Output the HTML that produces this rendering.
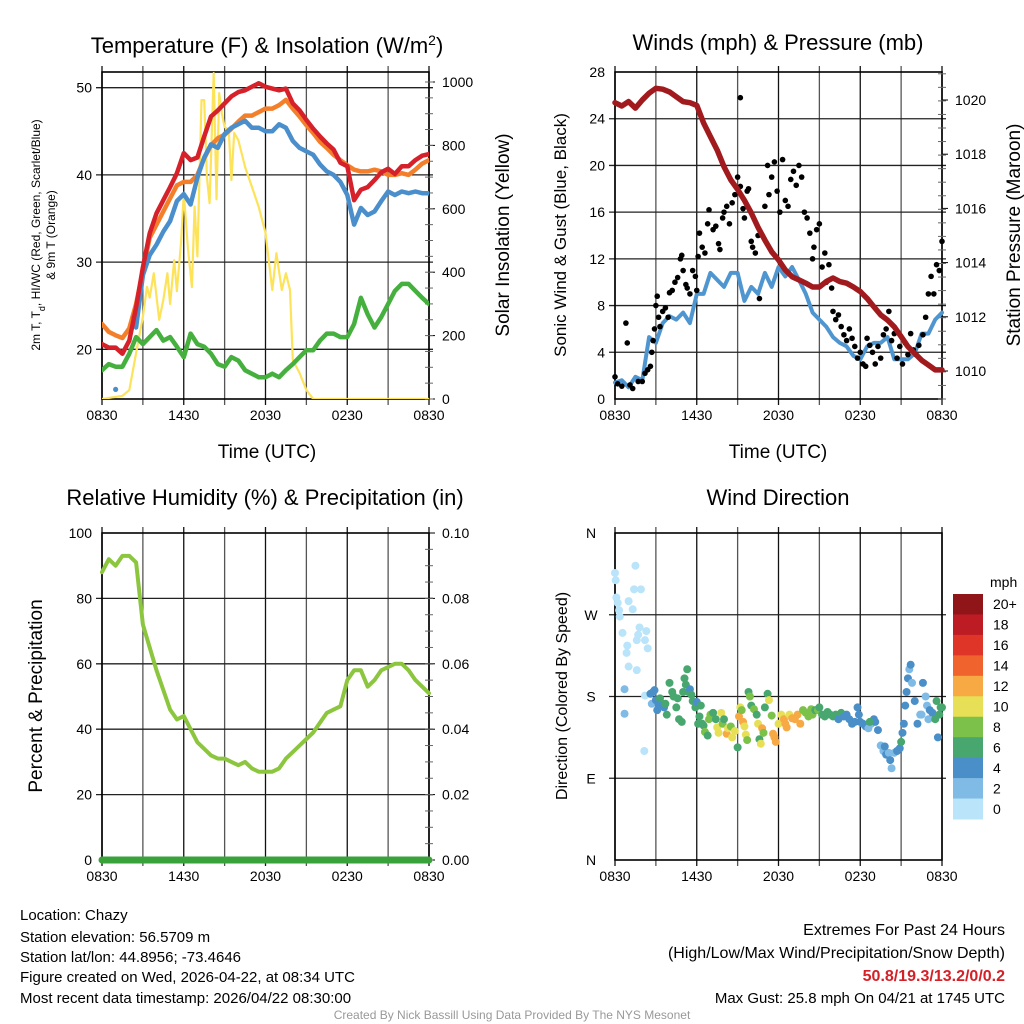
<!DOCTYPE html>
<html><head><meta charset="utf-8"><style>
html,body{margin:0;padding:0;background:#fff;}
svg{display:block;font-family:"Liberation Sans",sans-serif;}
</style></head><body>
<svg id="c" width="1024" height="1024" viewBox="0 0 1024 1024">
<g id="static">
<text x="267" y="53" font-size="22" text-anchor="middle">Temperature (F) &amp; Insolation (W/m<tspan baseline-shift="super" font-size="14">2</tspan>)</text>
<text x="778" y="50" font-size="22" text-anchor="middle">Winds (mph) &amp; Pressure (mb)</text>
<text x="265" y="505" font-size="22" text-anchor="middle">Relative Humidity (%) &amp; Precipitation (in)</text>
<text x="778" y="505" font-size="22" text-anchor="middle">Wind Direction</text>
<text x="267" y="458" font-size="19" text-anchor="middle">Time (UTC)</text>
<text x="778" y="458" font-size="19" text-anchor="middle">Time (UTC)</text>
<text transform="translate(40,235) rotate(-90)" font-size="12" text-anchor="middle">2m T, T<tspan baseline-shift="sub" font-size="9">d</tspan>, HI/WC (Red, Green, Scarlet/Blue)</text>
<text transform="translate(55,235) rotate(-90)" font-size="12" text-anchor="middle">&amp; 9m T (Orange)</text>
<text transform="translate(509,235) rotate(-90)" font-size="19" text-anchor="middle">Solar Insolation (Yellow)</text>
<text transform="translate(566,235) rotate(-90)" font-size="17" text-anchor="middle">Sonic Wind &amp; Gust (Blue, Black)</text>
<text transform="translate(1020,235) rotate(-90)" font-size="19" text-anchor="middle">Station Pressure (Maroon)</text>
<text transform="translate(42,696) rotate(-90)" font-size="19" text-anchor="middle">Percent &amp; Precipitation</text>
<text transform="translate(567,696) rotate(-90)" font-size="16" text-anchor="middle">Direction (Colored By Speed)</text>
<g font-size="15">
<text x="20" y="920">Location: Chazy</text>
<text x="20" y="942">Station elevation: 56.5709 m</text>
<text x="20" y="962">Station lat/lon: 44.8956; -73.4646</text>
<text x="20" y="982">Figure created on Wed, 2026-04-22, at 08:34 UTC</text>
<text x="20" y="1003">Most recent data timestamp: 2026/04/22 08:30:00</text>
</g>
<g font-size="16" text-anchor="end">
<text x="1005" y="935">Extremes For Past 24 Hours</text>
<text x="1005" y="958">(High/Low/Max Wind/Precipitation/Snow Depth)</text>
<text x="1005" y="981" fill="#d42027" font-weight="bold">50.8/19.3/13.2/0/0.2</text>
<text x="1005" y="1003" font-size="15">Max Gust: 25.8 mph On 04/21 at 1745 UTC</text>
</g>
<text x="512" y="1019" font-size="12" fill="#999" text-anchor="middle">Created By Nick Bassill Using Data Provided By The NYS Mesonet</text>
<text x="990" y="587" font-size="14" text-anchor="start">mph</text>
</g>
</svg>
<script>
const hours=[0,0.5,1,1.5,2,2.5,3,3.5,4,4.5,5,5.5,6,6.5,7,7.5,8,8.5,9,9.5,10,10.5,11,11.5,12,12.5,13,13.5,14,14.5,15,15.5,16,16.5,17,17.5,18,18.5,19,19.5,20,20.5,21,21.5,22,22.5,23,23.5,24];
const tempT=[20.6,20.2,20.2,19.5,21,24.8,29.4,33.3,35.6,37.1,38.6,40.2,42.5,41.7,42,44.4,46.7,47.4,48.2,49,49.5,49.7,50.1,50.5,50.1,49.9,49.7,49.9,48.2,47.4,46.3,45.3,44.4,43.6,42.9,41.4,41,37.1,38.3,38.6,39.4,40.3,40.7,40.1,41,41,41.7,42.2,42.4];
const temp9m=[22.9,22,21.6,21.3,22.4,25.2,29,32.8,34.3,35.8,37.3,38.8,39.2,39.2,40,41.9,43.4,44.2,44.6,45.3,46.1,46.8,46.8,47.2,47.6,47.6,48,48.6,47.6,46.7,45.7,44.8,43.8,43.1,42.3,41.7,41.1,40.6,40.4,40.4,40.6,40.4,40,40,40.2,40,40.6,41.3,41.7];
const dewT=[17.6,18.3,18,18,19.5,21.4,20.6,21.4,22.2,21,21.4,20.3,19.1,21.8,20.6,20.3,19.5,18.3,18,19.1,18.7,17.6,17.2,16.8,16.8,17.2,16.8,17.6,18.3,19.1,19.9,19.9,21,21.8,21.8,21.4,21.4,22.9,25.9,24,22.5,23.7,25.2,26.7,27.5,27.5,26.7,25.9,25.2];
const chillHours=[2.3,2.5,3,3.5,4,4.5,5,5.5,6,6.5,7,7.5,8,8.5,9,9.5,10,10.5,11,11.5,12,12.5,13,13.5,14,14.5,15,15.5,16,16.5,17,17.5,18,18.5,19,19.5,20,20.5,21,21.5,22,22.5,23,23.5,24];
const chillT=[23.7,22.5,28.5,30.8,32,33.5,34.7,37,37.8,36.6,39.7,42,43.5,43.1,44.7,45.4,45.8,46.2,45.4,45.4,45,45,45.8,45.4,43.9,43.1,42.7,42.3,41.2,40.4,40,39.2,37.7,34.3,36.2,35.4,35.8,37,38.1,37.7,38.1,37.9,38.1,37.9,37.9];
const solarHours=[0,1.5,2,2.5,3,3.3,3.5,3.8,4.2,4.5,4.8,5,5.3,5.5,5.8,6,6.3,6.6,6.8,7,7.3,7.5,7.7,7.9,8.2,8.4,8.6,8.8,9,9.3,9.5,9.7,10,10.5,11,11.5,12,12.5,12.8,13.2,13.5,13.8,14,14.5,15,15.5,24];
const solarW=[0,10,28,145,260,354,320,397,250,312,397,300,438,340,492,650,480,353,607,450,943,943,700,618,1028,630,965,900,858,850,691,839,817,732,669,606,524,344,460,344,397,344,123,82,28,0,0];
const pressure=[1019.9,1019.78,1019.94,1019.7,1020,1020.25,1020.43,1020.4,1020.3,1020.12,1019.94,1019.9,1019.8,1019.15,1018.65,1018.15,1017.54,1017.05,1016.7,1016.3,1015.83,1015.3,1014.83,1014.4,1014.1,1013.73,1013.48,1013.36,1013.24,1013.1,1013.1,1013.3,1013.43,1013.3,1013.24,1013.1,1012.93,1012.68,1012.37,1012.07,1011.88,1011.63,1011.27,1010.9,1010.65,1010.4,1010.22,1010.04,1010.04];
const windSpd=[1.4,1.6,1.0,1.9,1.6,5.3,4.8,6.5,7.1,6.8,7.4,6.5,9.0,9.0,10.8,10.2,9.6,10.8,10.8,8.4,9.6,9.0,10.8,9.6,11.3,10.5,11.3,10.2,9.0,7.4,6.8,6.2,5.3,4.8,4.5,3.7,3.4,4.5,4.8,4.8,5.3,3.4,3.4,3.4,3.9,5.6,5.6,6.8,7.4];
const gustHours=[0,0.2,0.5,0.8,0.9,1.1,1.3,1.7,2,2.2,2.4,2.6,2.7,2.8,2.9,3,3.1,3.2,3.3,3.5,3.7,3.9,4,4.2,4.4,4.6,4.8,4.9,5,5.2,5.3,5.5,5.7,5.9,6,6.1,6.2,6.4,6.6,6.8,6.9,7.2,7.4,7.6,7.7,7.9,8,8.2,8.4,8.6,8.8,9,9.2,9.4,9.5,9.7,9.8,10,10.1,10.3,10.5,10.6,10.8,11,11.2,11.3,11.5,11.7,11.9,12.1,12.3,12.5,12.7,12.9,13.1,13.3,13.5,13.7,13.9,14.1,14.3,14.5,14.6,14.8,15,15.2,15.4,15.5,15.7,15.9,16,16.2,16.4,16.6,16.8,17,17.2,17.4,17.6,17.8,18,18.2,18.4,18.5,18.7,18.9,19.1,19.3,19.5,19.7,19.9,20.1,20.3,20.5,20.7,20.9,21.1,21.3,21.5,21.7,21.9,22.1,22.3,22.6,22.8,23,23.2,23.4,23.6,23.8,24,9.2];
const gustSpd=[1.9,1.3,1.1,6.5,4.8,1.2,0.9,1.5,1.5,2.2,2.5,2.8,4,5,6,8,8.8,7,6.2,7.5,7.8,7,9.1,9.3,10,10.4,12,12.3,11,9.8,9.5,9,11,10.5,9.3,12.2,14.2,13,12.5,15,16.2,14.5,14.8,13.3,12.8,15.5,16,16.5,15,16.8,17.5,19,18.2,16.3,15.5,17.8,18,13.5,13,12.5,14,8.6,14,16.5,20,17.5,19,20.3,17.8,16,20.5,17,16.5,18.8,19.5,18.3,20,19,16,15.5,14.2,12,13,14.5,15,11.3,12.5,10,11.5,9.5,7.5,6.8,7.2,6.2,5.5,5,6,5.2,4.5,3.5,4,3,2.8,5.2,4.6,4,3,4.5,3.5,5.5,6,7.5,5,5.6,3.5,4.5,3,4.8,3.8,5.6,4.2,3.8,4.6,5.5,7,9,10.5,9,11.5,11,13.5,25.8];
const rh=[88,92,90,93,93,91,72,65,58,52,46,43,44,40,36,34,32,31,31,30,29,30,28,27,27,27,28,31,33,35,37,39,42,45,46,47,55,58,58,53,55,58,59,60,60,58,55,53,51];
const dirHours=[0,0.05,0.1,0.2,0.3,0.35,0.55,1,1.5,1.4,1.9,1.3,1.8,1.7,1.6,2.3,2.2,2.4,0.9,0.85,1,1.6,0.7,0.7,2.2,2.15,2.6,2.8,2.9,2.7,3,3.1,3.2,3.4,3.5,3.6,3.3,3.7,3.8,4,4.2,4.3,4.5,4.6,4.7,4.9,5,5.1,5.2,5.3,5.4,5.5,5.6,5.7,5.9,6,6.1,6.2,6.3,6.4,6.5,6.6,6.8,6.9,7,7.2,7.4,7.5,7.6,7.8,7.9,8,8.2,8.3,8.5,8.6,8.8,9,9.1,9.2,9.3,9.4,9.5,9.6,9.7,9.8,9.9,10,10.2,10.4,10.5,10.6,10.7,10.8,10.9,11,11.2,11.3,11.5,11.6,11.7,11.8,12,12.2,12.4,12.5,12.6,12.8,13,13.2,13.4,13.6,13.8,14,14.2,14.4,14.5,14.7,14.9,15,15.2,15.4,15.6,15.8,16,16.2,16.4,16.6,16.8,17,17.2,17.4,17.6,17.8,17.9,18,18.2,18.4,18.6,18.8,19,19.1,19.3,19.5,19.7,19.9,20.1,20.2,20.3,20.5,20.7,20.9,21,21.1,21.2,21.3,21.4,21.5,21.6,21.7,21.8,22,22.2,22.4,22.5,22.6,22.8,22.9,23,23.1,23.3,23.5,23.6,23.7,23.8,23.9,24,18.7,19.8];
const dirDeg=[316,308,289,283,275,268,250,285,324,298,298,276,256,248,242,252,242,233,236,228,213,209,188,161,181,120,183,185,187,172,176,165,171,170,172,168,178,172,160,195,185,180,168,178,155,152,185,200,193,210,185,188,182,175,168,174,150,158,170,150,148,141,137,155,160,162,155,146,140,162,150,155,139,145,147,135,142,124,158,168,165,152,147,138,132,185,180,170,166,160,150,133,128,145,140,168,183,176,159,139,135,130,150,160,155,150,146,160,156,155,160,150,165,162,158,166,160,165,165,168,160,158,163,160,158,160,155,162,158,160,155,150,152,168,160,152,150,147,145,150,155,152,143,126,120,116,118,110,101,118,120,123,130,140,150,170,185,200,210,215,195,175,150,160,160,195,180,170,155,165,162,155,175,135,160,168,168,152,125];
const dirSpd=[1,1,1,1,1,1,1,1,1,1,1,1,1,1,1,1,1,1,1,1,1,1,3,3,1,1,4,4,4,3,4,4,5,4,5,5,6,6,6,6,6,6,6,6,6,6,6,7,6,7,6,4,6,6,6,4,6,7,6,7,7,8,6,9,9,7,7,10,10,10,8,7,12,10,9,11,10,7,12,10,8,12,11,10,8,6,8,7,9,6,10,7,10,12,9,6,6,10,8,12,12,12,10,10,12,12,12,10,12,12,12,12,8,8,8,8,8,6,8,6,6,6,6,6,6,6,4,6,4,4,4,4,4,4,4,4,4,4,2,2,4,4,4,2,2,4,2,4,2,2,4,4,6,4,4,4,4,4,2,4,2,4,4,2,2,4,2,2,2,4,4,6,6,4,6,6,6,6,4,6];
const xTickLabels=['0830','1430','2030','0230','0830'];
const xTickHours=[0,6,12,18,24];
const speedBins=['0','2','4','6','8','10','12','14','16','18','20+'];
const binColors=['#b9e4fa','#7fbbe5','#4a8fc8','#48a76e','#7cc24a','#e7e056','#f7a944','#f0632c','#df3428','#bd1c25','#901518'];

const svg=document.getElementById('c');
const NS='http://www.w3.org/2000/svg';
function mk(tag,attrs,parent){const e=document.createElementNS(NS,tag);for(const k in attrs)e.setAttribute(k,attrs[k]);(parent||svg).appendChild(e);return e;}
function panel(x0,x1,y0,y1,ymin,ymax){return {x0,x1,y0,y1,sx:t=>x0+(t/24)*(x1-x0),sy:v=>y1-(v-ymin)/(ymax-ymin)*(y1-y0)};}
const P1=panel(102,429,72,399,14.3,51.8);
const P1r=v=>399-v*0.317;
const P2=panel(615,942,72,399,0,28);
const P2r=v=>371-(v-1010)*27.1;
const P3=panel(102,429,533,860,0,100);
const P4=panel(615,942,533,860,0,360);

function frame(p,name,hVals,hy){
  const g=mk('g',{});
  
  
  for(let i=0;i<=8;i++){const x=p.x0+i*(p.x1-p.x0)/8;
    mk('line',{x1:x,x2:x,y1:p.y0-6,y2:p.y1+6,stroke:i%2?'#555':'#111','stroke-width':1.3},g);}
  hVals.forEach(v=>{const y=hy(v);mk('line',{x1:p.x0-6,x2:p.x1+4,y1:y,y2:y,stroke:'#222','stroke-width':1.3},g);});
  mk('rect',{x:p.x0,y:p.y0,width:p.x1-p.x0,height:p.y1-p.y0,fill:'none',stroke:'#000','stroke-width':1.6},g);
  xTickHours.forEach((h,i)=>{const t=mk('text',{x:p.sx(h),y:p.y1+21,'font-size':14,'text-anchor':'middle'});t.textContent=xTickLabels[i];
    
    });
}
function label(x,y,txt,anchor,name){const t=mk('text',{x:x,y:y+5,'font-size':14,'text-anchor':anchor});t.textContent=txt;
  
  }
function line(xs,ys,sx,sy,color,w,name){
  const d=xs.map((h,i)=>(i?'L':'M')+sx(h).toFixed(1)+','+sy(ys[i]).toFixed(1)).join('');
  const p=mk('path',{d:d,fill:'none',stroke:color,'stroke-width':w,'stroke-linejoin':'round','stroke-linecap':'round'});
  
  
  return p;}
function minorTicks(x,y0,y1,step){for(let y=y1;y>=y0;y-=step){mk('line',{x1:x-4,x2:x+4,y1:y,y2:y,stroke:'#666','stroke-width':1});}}

// Panel 1
frame(P1,'temp',[20,30,40,50],P1.sy);
[20,30,40,50].forEach(v=>label(P1.x0-10,P1.sy(v),String(v),'end','temp-y-tick'));
[0,200,400,600,800,1000].forEach(v=>{label(P1.x1+13,P1r(v),String(v),'start','insolation-tick');mk('line',{x1:P1.x1,x2:P1.x1+6,y1:P1r(v),y2:P1r(v),stroke:'#000'});});
minorTicks(P1.x1,P1.y0,P1.y1,0.317*50);
const clip1=mk('clipPath',{id:'cl1'});mk('rect',{x:P1.x0,y:P1.y0-8,width:P1.x1-P1.x0,height:P1.y1-P1.y0+8},clip1);
const g1=mk('g',{'clip-path':'url(#cl1)'});
line(solarHours,solarW,P1.sx,P1r,'#fde35a',2.2,'insolation-line');
g1.appendChild(svg.lastChild);
[[hours,dewT,'#46b03f','dewpoint-line'],[hours,temp9m,'#f47f2b','temp-9m-line'],[chillHours,chillT,'#4a8fcb','windchill-line'],[hours,tempT,'#d6212a','temp-2m-line']].forEach(s=>{line(s[0],s[1],P1.sx,P1.sy,s[2],4.5,s[3]);g1.appendChild(svg.lastChild);});
const dot=mk('circle',{cx:P1.sx(1),cy:P1.sy(15.4),r:2.6,fill:'#4a8fcb'});



// Panel 2
frame(P2,'winds',[4,8,12,16,20,24],P2.sy);
[0,4,8,12,16,20,24,28].forEach(v=>label(P2.x0-10,P2.sy(v),String(v),'end','wind-y-tick'));
[1010,1012,1014,1016,1018,1020].forEach(v=>{label(P2.x1+13,P2r(v),String(v),'start','pressure-tick');mk('line',{x1:P2.x1,x2:P2.x1+6,y1:P2r(v),y2:P2r(v),stroke:'#000'});});
minorTicks(P2.x1,P2.y0,P2.y1,27.1/2);
line(hours,windSpd,P2.sx,P2.sy,'#4f96d1',4,'wind-speed-line');
gustHours.forEach((h,i)=>{const c=mk('circle',{cx:P2.sx(h),cy:P2.sy(gustSpd[i]),r:2.8,fill:'#000'});
  
  });
line(hours,pressure,P2.sx,P2r,'#a11a1d',5.5,'pressure-line');

// Panel 3
frame(P3,'rh',[20,40,60,80],P3.sy);
[0,20,40,60,80,100].forEach(v=>{label(P3.x0-10,P3.sy(v),String(v),'end','rh-y-tick');label(P3.x1+13,P3.sy(v),(v/1000).toFixed(2),'start','precip-tick');mk('line',{x1:P3.x1,x2:P3.x1+6,y1:P3.sy(v),y2:P3.sy(v),stroke:'#000'});});
minorTicks(P3.x1,P3.y0,P3.y1,3.27*5);
line(hours,rh,P3.sx,P3.sy,'#8cc63f',4,'rh-line');
const precip=hours.map(()=>0);
line(hours,precip,P3.sx,P3.sy,'#3aa23a',7,'precip-line');

// Panel 4
frame(P4,'dir',[90,180,270],P4.sy);
[[0,'N'],[90,'E'],[180,'S'],[270,'W'],[360,'N']].forEach(a=>label(P4.x0-24,P4.sy(a[0]),a[1],'middle','dir-tick'));
dirHours.forEach((h,i)=>{const b=Math.min(10,Math.floor(dirSpd[i]/2));
  const c=mk('circle',{cx:P4.sx(h),cy:P4.sy(dirDeg[i]),r:4,fill:binColors[b]});
  
  });
const cb=mk('g',{});


const bh=225/11;
for(let i=0;i<11;i++){const y=594+i*bh;mk('rect',{x:953,y:y,width:30,height:bh+0.5,fill:binColors[10-i]},cb);
  const t=mk('text',{x:993,y:y+bh/2+5,'font-size':14},cb);t.textContent=speedBins[10-i];}
</script>
</body></html>
